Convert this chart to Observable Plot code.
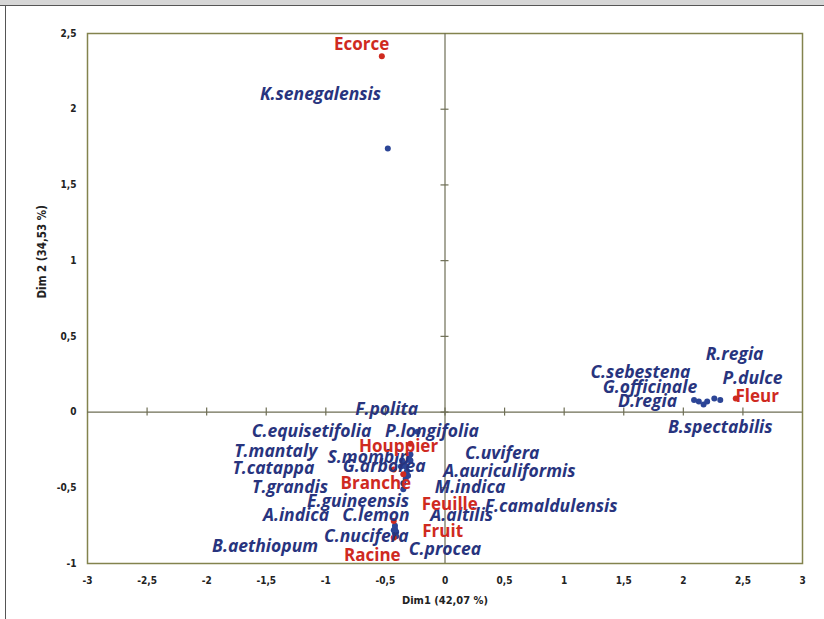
<!DOCTYPE html>
<html>
<head>
<meta charset="utf-8">
<script src="https://cdn.jsdelivr.net/npm/d3@7"></script>
<script src="https://cdn.jsdelivr.net/npm/@observablehq/plot@0.6"></script>
<style>
  html, body { margin: 0; padding: 0; background: #ffffff; }
  #wrap { position: relative; width: 824px; height: 619px; overflow: hidden; }
  #topband { position: absolute; left: 0; top: 0; width: 824px; height: 5px; background: #d6d6d6; border-bottom: 1px solid #555; }
  #leftline { position: absolute; left: 5px; top: 5px; width: 1px; height: 614px; background: #555; }
  #chart { position: absolute; left: 0; top: 0; }
</style>
</head>
<body>
<div id="wrap">
  <div id="chart"></div>
  <div id="topband"></div>
  <div id="leftline"></div>
</div>
<script>
// ---- Data ----
const organNames = ["Ecorce", "Fleur", "Houppier", "Branche", "Feuille", "Fruit", "Racine"];
const organDim1 = [-0.53, 2.44, -0.29, -0.43, -0.35, -0.43, -0.43];
const organDim2 = [2.35, 0.09, -0.21, -0.38, -0.41, -0.72, -0.83];
const organLabelDim1 = [-0.70, 2.62, -0.39, -0.58, 0.04, -0.02, -0.61];
const organLabelDim2 = [2.43, 0.10, -0.23, -0.47, -0.61, -0.79, -0.95];

const speciesNames = ["K.senegalensis", "R.regia", "C.sebestena", "P.dulce", "G.officinale", "D.regia", "B.spectabilis",
  "F.polita", "C.equisetifolia", "P.longifolia", "T.mantaly", "S.mombin", "C.uvifera", "T.catappa", "G.arborea",
  "A.auriculiformis", "T.grandis", "M.indica", "E.guineensis", "F.camaldulensis", "A.indica", "C.lemon", "A.altilis",
  "C.nucifera", "B.aethiopum", "C.procea"];
const speciesDim1 = [-0.48, 2.26, 2.17, 2.31, 2.13, 2.09, 2.20,
  -0.29, -0.36, -0.23, -0.33, -0.29, -0.30, -0.37, -0.34,
  -0.32, -0.35, -0.33, -0.35, -0.31, -0.42, -0.42, -0.41,
  -0.42, -0.43, -0.41];
const speciesDim2 = [1.74, 0.09, 0.05, 0.08, 0.07, 0.08, 0.07,
  -0.32, -0.32, -0.13, -0.36, -0.28, -0.31, -0.36, -0.34,
  -0.39, -0.47, -0.44, -0.51, -0.42, -0.75, -0.77, -0.79,
  -0.80, -0.78, -0.82];
const speciesLabelDim1 = [-1.045, 2.43, 1.64, 2.58, 1.72, 1.70, 2.31,
  -0.49, -1.12, -0.11, -1.42, -0.64, 0.48, -1.44, -0.51,
  0.54, -1.30, 0.21, -0.73, 0.89, -1.25, -0.58, 0.14,
  -0.66, -1.51, 0.00];
const speciesLabelDim2 = [2.10, 0.38, 0.26, 0.22, 0.16, 0.07, -0.10,
  0.02, -0.13, -0.13, -0.26, -0.30, -0.27, -0.37, -0.36,
  -0.39, -0.50, -0.50, -0.59, -0.62, -0.68, -0.68, -0.68,
  -0.82, -0.89, -0.91];

const xTicks = [-3, -2.5, -2, -1.5, -1, -0.5, 0, 0.5, 1, 1.5, 2, 2.5, 3];
const yTicks = [-1, -0.5, 0, 0.5, 1, 1.5, 2, 2.5];
const xTitle = "Dim1 (42,07 %)";
const yTitle = "Dim 2 (34,53 %)";

// ---- Build tables ----
const organs = organNames.map((n, i) => ({name: n, x: organDim1[i], y: organDim2[i], lx: organLabelDim1[i], ly: organLabelDim2[i]}));
const species = speciesNames.map((n, i) => ({name: n, x: speciesDim1[i], y: speciesDim2[i], lx: speciesLabelDim1[i], ly: speciesLabelDim2[i]}));

const olive = "#83834e";
const axisGrey = "#6e6e55";
const blue = "#28347e";
const blueDot = "#2c4596";
const red = "#cf2a1f";
const comma = d => String(d).replace(".", ",");
const tickFont = "'DejaVu Sans Condensed', 'Liberation Sans Narrow', sans-serif";
const labelFont = "'Open Sans', 'Noto Sans', sans-serif";

const chart = Plot.plot({
  width: 824,
  height: 619,
  marginLeft: 87,
  marginRight: 22,
  marginTop: 33,
  marginBottom: 56,
  style: {fontFamily: tickFont, fontSize: "10px", fontWeight: "bold", color: "#222", background: "transparent"},
  x: {domain: [-3, 3], ticks: xTicks, tickFormat: comma, tickSize: 0, tickPadding: 13, label: null},
  y: {domain: [-1, 2.5], ticks: yTicks, tickFormat: comma, tickSize: 0, tickPadding: 11, label: null},
  marks: [
    Plot.frame({stroke: olive, strokeWidth: 1.5}),
    Plot.ruleY([0], {stroke: axisGrey, strokeWidth: 1.2}),
    Plot.ruleX([0], {stroke: axisGrey, strokeWidth: 1.2}),
    Plot.ruleX(xTicks.filter(d => d > -3 && d < 3), {x: d => d, y1: 0, y2: 0, insetTop: -4, insetBottom: -4, stroke: axisGrey, strokeWidth: 1.2}),
    Plot.ruleY(yTicks.filter(d => d > -1 && d < 2.5), {y: d => d, x1: 0, x2: 0, insetLeft: -4, insetRight: -4, stroke: axisGrey, strokeWidth: 1.2}),
    Plot.dot(species, {x: "x", y: "y", r: 3, fill: blueDot, stroke: "none"}),
    Plot.dot(organs, {x: "x", y: "y", r: 3, fill: red, stroke: "none"}),
    Plot.text(species, {x: "lx", y: "ly", text: "name", fill: blue, fontSize: 17.5, fontWeight: "bold", fontStyle: "italic", fontFamily: labelFont}),
    Plot.text(organs, {x: "lx", y: "ly", text: "name", fill: red, fontSize: 17, fontWeight: "bold", fontFamily: labelFont}),
    Plot.text([xTitle], {frameAnchor: "bottom", dy: 40, fontSize: 11, fontWeight: "bold", fill: "#222", fontFamily: tickFont}),
    Plot.text([yTitle], {frameAnchor: "left", dx: -45, rotate: -90, fontSize: 11.5, fontWeight: "bold", fill: "#222", fontFamily: tickFont})
  ]
});
document.getElementById("chart").appendChild(chart);
</script>
</body>
</html>
